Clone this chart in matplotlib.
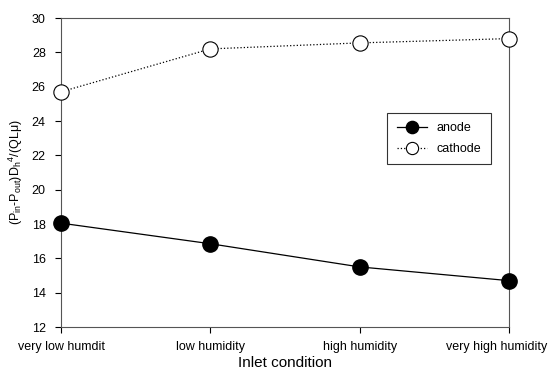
import matplotlib
matplotlib.use("Agg")
import matplotlib.pyplot as plt
import matplotlib.transforms as mtransforms

plt.rcParams["font.family"] = ["Liberation Sans", "DejaVu Sans"]
plt.rcParams["mathtext.fontset"] = "custom"
plt.rcParams["mathtext.rm"] = "Liberation Sans"
plt.rcParams["mathtext.it"] = "Liberation Sans"

conditions = ["very low humdit", "low humidity", "high humidity", "very high humidity"]
anode = [18.05, 16.85, 15.5, 14.7]
cathode = [25.7, 28.2, 28.55, 28.8]

fig = plt.figure(figsize=(5.51, 3.72), dpi=100)
ax = fig.add_axes([61 / 551, 45 / 372, 448 / 551, 309 / 372])

x = range(len(conditions))
ax.plot(x, anode, "-", color="black", lw=0.9, marker="o", ms=11,
        mfc="black", mec="black", label="anode", clip_on=False, zorder=3)
ax.plot(x, cathode, ":", color="black", lw=0.9, marker="o", ms=11,
        mfc="white", mec="black", mew=0.8, label="cathode", clip_on=False, zorder=3)

ax.set_xlim(0, 3)
ax.set_ylim(12, 30)
ax.set_yticks(range(12, 31, 2))
ax.set_xticks(list(x))
ax.set_xticklabels(conditions, fontsize=9)
ax.tick_params(axis="y", labelsize=9, length=4, width=0.8, direction="out", pad=7)
ax.tick_params(axis="x", length=4, width=0.8, direction="out", pad=6)
for s in ax.spines.values():
    s.set_color("#555555")
    s.set_linewidth(0.8)

# the last label sits a bit left of its tick so it stays inside the figure
last = ax.get_xticklabels()[-1]
last.set_transform(last.get_transform() +
                   mtransforms.ScaledTranslation(-12 / 100, 0, fig.dpi_scale_trans))

ax.set_xlabel("Inlet condition", fontsize=11, labelpad=2)
ax.set_ylabel(r"(P$_{in}$-P$_{out}$)D$_h$$^4$/(QL$\mu$)", fontsize=9, labelpad=5)

leg = ax.legend(loc="upper left", bbox_to_anchor=(0.728, 0.693),
                frameon=True, fancybox=False, fontsize=9, handlelength=2.4,
                markerscale=0.8, borderpad=0.75, labelspacing=0.7,
                borderaxespad=0)
leg.get_frame().set_edgecolor("black")
leg.get_frame().set_linewidth(0.8)

fig.savefig("out.png", dpi=100)
